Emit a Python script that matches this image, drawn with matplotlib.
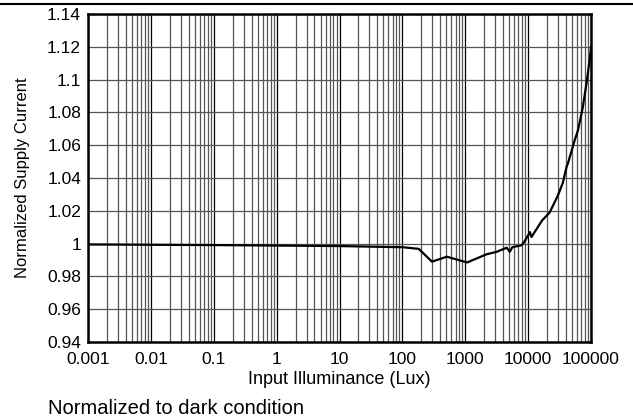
import numpy as np
import matplotlib.pyplot as plt
from matplotlib.ticker import FixedLocator, LogLocator, NullFormatter

plt.rcParams['font.family'] = ['Liberation Sans', 'DejaVu Sans']

# ---------------- DATA ----------------
lux = [0.001, 0.01, 0.1, 1, 10, 100, 182, 295, 510, 1070, 2190, 3160, 4570,
       5100, 5600, 7900, 9000, 10700, 11300, 16600, 22000, 29500, 35600,
       41000, 43000, 55000, 62000, 74000, 85000, 96000, 100000]
current = [0.9995, 0.9993, 0.9991, 0.9988, 0.9985, 0.9978, 0.9968, 0.989,
           0.992, 0.9885, 0.9935, 0.995, 0.9975, 0.995, 0.9978, 0.999,
           1.002, 1.007, 1.004, 1.014, 1.019, 1.029, 1.037, 1.047, 1.049,
           1.063, 1.069, 1.083, 1.098, 1.113, 1.12]
xticks = [0.001, 0.01, 0.1, 1, 10, 100, 1000, 10000, 100000]
xticklabels = ["0.001", "0.01", "0.1", "1", "10", "100", "1000", "10000", "100000"]
yticks = [0.94, 0.96, 0.98, 1.0, 1.02, 1.04, 1.06, 1.08, 1.1, 1.12, 1.14]
yticklabels = ["0.94", "0.96", "0.98", "1", "1.02", "1.04", "1.06", "1.08", "1.1", "1.12", "1.14"]

# ---------------- PLOT ----------------
fig = plt.figure(figsize=(6.33, 4.2), dpi=100)
ax = fig.add_axes([88 / 633, 1 - 342 / 420, 503 / 633, 328 / 420])

ax.plot(lux, current, color="black", lw=1.6, zorder=3)

ax.set_xscale("log")
ax.set_xlim(0.001, 100000)
ax.set_ylim(0.94, 1.14)
ax.set_xticks(xticks)
ax.set_xticklabels(xticklabels)
ax.xaxis.set_minor_locator(LogLocator(base=10, subs=np.arange(2, 10)))
ax.xaxis.set_minor_formatter(NullFormatter())
ax.yaxis.set_major_locator(FixedLocator(yticks))
ax.set_yticklabels(yticklabels)

ax.grid(which="major", axis="x", color="black", lw=0.9)
ax.grid(which="minor", axis="x", color="#555555", lw=0.9)
ax.grid(which="major", axis="y", color="#555555", lw=0.9)
ax.tick_params(which="both", length=0, labelsize=12.5)
ax.tick_params(axis="x", pad=7.5)
ax.tick_params(axis="y", pad=5)

for s in ax.spines.values():
    s.set_linewidth(1.8)

ax.set_xlabel("Input Illuminance (Lux)", fontsize=13)
ax.xaxis.set_label_coords(0.5, -(371 - 342) / 328)
ax.set_ylabel("Normalized Supply Current", fontsize=12)
ax.yaxis.set_label_coords(-(88 - 30) / 503, 0.5)

fig.add_artist(plt.Line2D([0, 1], [1 - 4 / 420, 1 - 4 / 420], color="black", lw=1.5))
fig.text(48 / 633, 1 - 414 / 420, "Normalized to dark condition", fontsize=14.5, va="baseline")

fig.savefig("out.png", dpi=100)
